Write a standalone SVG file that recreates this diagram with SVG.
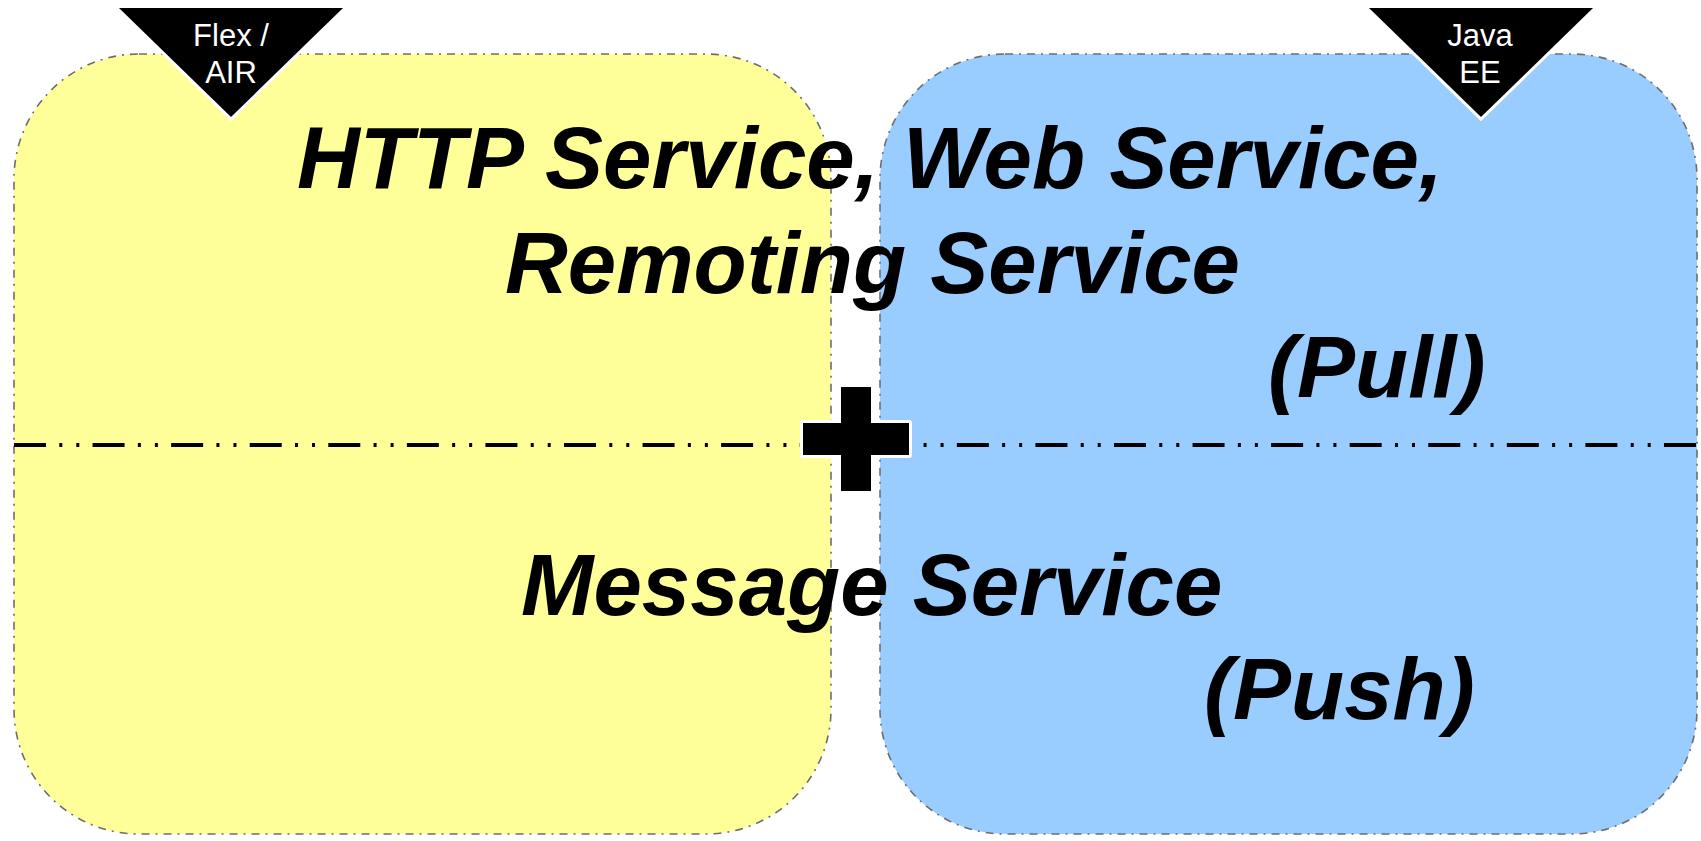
<svg xmlns="http://www.w3.org/2000/svg" width="1701" height="841" viewBox="0 0 1701 841">
  <style>
    .panel { stroke: #6e6e6e; stroke-width: 1.6; stroke-dasharray: 8 6 2 6; }
    .tri { fill: #000000; stroke: #ffffff; stroke-width: 6; stroke-linejoin: miter; paint-order: stroke; }
    .tag { font-family: "Liberation Sans", Arial, sans-serif; font-size: 31px; fill: #ffffff; text-anchor: middle; }
    .big { font-family: "Liberation Sans", Arial, sans-serif; font-size: 87px; font-weight: bold; font-style: italic; fill: #000000; }
  </style>
  <rect x="0" y="0" width="1701" height="841" fill="#ffffff"/>

  <g id="flex-air-panel">
    <rect class="panel" x="14" y="54" width="817" height="780" rx="125" ry="125" fill="#ffff99"/>
  </g>
  <g id="java-ee-panel">
    <rect class="panel" x="880" y="54" width="817" height="780" rx="125" ry="125" fill="#99ccff"/>
  </g>

  <g id="connectors">
    <line x1="14" y1="445" x2="1697" y2="445" stroke="#000000" stroke-width="4" stroke-dasharray="32 13.3 3 14 3 13.27"/>
  </g>

  <g id="plus">
    <path d="M841,387 H871 V423 H909 V455 H871 V491 H841 V455 H803 V423 H841 Z" fill="#000000" stroke="#ffffff" stroke-width="6" stroke-linejoin="round" paint-order="stroke"/>
  </g>

  <g id="flex-air-tag">
    <polygon class="tri" points="119,8 343,8 231,117"/>
    <text class="tag" x="231" y="46">Flex /</text>
    <text class="tag" x="231" y="83">AIR</text>
  </g>
  <g id="java-ee-tag">
    <polygon class="tri" points="1369,8 1593,8 1481,117"/>
    <text class="tag" x="1480" y="46">Java</text>
    <text class="tag" x="1480" y="83">EE</text>
  </g>

  <g id="pull-label">
    <text class="big" x="297" y="188">HTTP Service, Web Service,</text>
    <text class="big" x="505" y="293">Remoting Service</text>
    <text class="big" x="1268" y="397">(Pull)</text>
  </g>
  <g id="push-label">
    <text class="big" x="521" y="615">Message Service</text>
    <text class="big" x="1204" y="719">(Push)</text>
  </g>
</svg>
